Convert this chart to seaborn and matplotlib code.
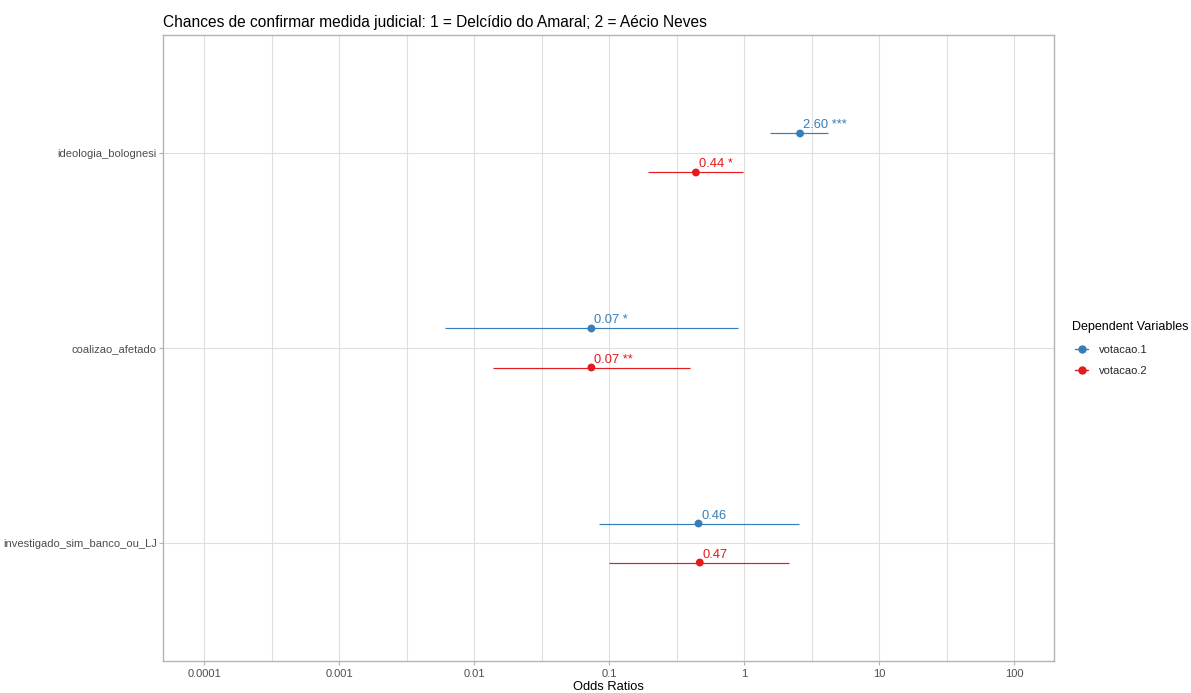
import numpy as np
import pandas as pd
import matplotlib
matplotlib.use("Agg")
import matplotlib.pyplot as plt
from matplotlib.lines import Line2D
from matplotlib.ticker import FixedLocator, NullFormatter
import seaborn as sns

# ---- data ----
terms = ["ideologia_bolognesi", "coalizao_afetado", "investigado_sim_banco_ou_LJ"]
models = ["votacao.1", "votacao.2"]
est_v1 = [2.60, 0.074, 0.46]
lo_v1 = [1.56, 0.0061, 0.084]
hi_v1 = [4.19, 0.90, 2.56]
stars_v1 = ["***", "*", ""]
est_v2 = [0.44, 0.074, 0.47]
lo_v2 = [0.194, 0.0138, 0.10]
hi_v2 = [0.98, 0.398, 2.15]
stars_v2 = ["*", "**", ""]
x_ticks = [0.0001, 0.001, 0.01, 0.1, 1, 10, 100]
x_tick_labels = ["0.0001", "0.001", "0.01", "0.1", "1", "10", "100"]

colors = {"votacao.1": "#377EB8", "votacao.2": "#E41A1C"}
dodge = {"votacao.1": -0.1, "votacao.2": 0.1}

rows = []
for i, t in enumerate(terms):
    rows.append(dict(term=t, model="votacao.1", est=est_v1[i], lo=lo_v1[i], hi=hi_v1[i], stars=stars_v1[i], idx=i))
    rows.append(dict(term=t, model="votacao.2", est=est_v2[i], lo=lo_v2[i], hi=hi_v2[i], stars=stars_v2[i], idx=i))
df = pd.DataFrame(rows)
df["y"] = df["idx"] + df["model"].map(dodge)

sns.set_theme(style="white")
plt.rcParams["font.family"] = ["Liberation Sans", "DejaVu Sans"]

W, H = 1191, 693
fig = plt.figure(figsize=(W / 100, H / 100), dpi=100)
ax = fig.add_axes([163 / W, 1 - 661 / H, (1054 - 163) / W, (661 - 35) / H])

# CI lines
for m in models:
    sub = df[df["model"] == m]
    ax.hlines(sub["y"], sub["lo"], sub["hi"], color=colors[m], lw=0.85, zorder=3)

sns.scatterplot(data=df, x="est", y="y", hue="model", palette=colors, s=32,
                edgecolor="none", ax=ax, legend=False, zorder=4)

for _, r in df.iterrows():
    lab = f"{r['est']:.2f}" + (f" {r['stars']}" if r["stars"] else "")
    ax.annotate(lab, xy=(r["est"], r["y"]), xytext=(3, 5), textcoords="offset pixels",
                ha="left", va="baseline", fontsize=9.3, color=colors[r["model"]], zorder=5)

ax.set_xscale("log")
ax.set_xlim(10 ** -4.304, 10 ** 2.296)
ax.set_ylim(2.605, -0.605)

ax.xaxis.set_major_locator(FixedLocator(x_ticks))
ax.set_xticklabels(x_tick_labels)
minor = [10 ** (k + 0.5) for k in range(-5, 3)]
ax.xaxis.set_minor_locator(FixedLocator(minor))
ax.xaxis.set_minor_formatter(NullFormatter())
ax.set_yticks(range(len(terms)))
ax.set_yticklabels(terms)

ax.grid(True, which="major", axis="both", color="#DEDEDE", lw=0.8)
ax.grid(True, which="minor", axis="x", color="#DEDEDE", lw=0.8)
ax.set_axisbelow(True)

for sp in ax.spines.values():
    sp.set_visible(True)
    sp.set_color("#B3B3B3")
    sp.set_linewidth(1.0)

ax.tick_params(axis="both", which="major", length=3, width=0.8, color="#B3B3B3",
               labelsize=8, labelcolor="#4D4D4D", direction="out",
               bottom=True, left=True)
ax.tick_params(axis="y", which="major", pad=1.5)
ax.tick_params(axis="x", which="major", pad=3)
ax.tick_params(axis="x", which="minor", length=0)

ax.set_xlabel("Odds Ratios", fontsize=9.3, color="black", labelpad=1)
ax.set_ylabel("")
ax.set_title("Chances de confirmar medida judicial: 1 = Delcídio do Amaral; 2 = Aécio Neves",
             loc="left", fontsize=11.2, color="black", pad=5.8)

# legend
fig.text(1072 / W, 1 - 327 / H, "Dependent Variables", fontsize=9, color="black",
         ha="left", va="center")
handles = [Line2D([0], [0], color=colors[m], lw=1, marker="o", markersize=5) for m in models]
fig.legend(handles, models, loc="upper left", bbox_to_anchor=(1075 / W, 1 - 345 / H),
           frameon=False, fontsize=8, borderpad=0, borderaxespad=0,
           handlelength=1.17, handletextpad=1.0, labelspacing=0.95)

fig.savefig("out.png", dpi=100)
